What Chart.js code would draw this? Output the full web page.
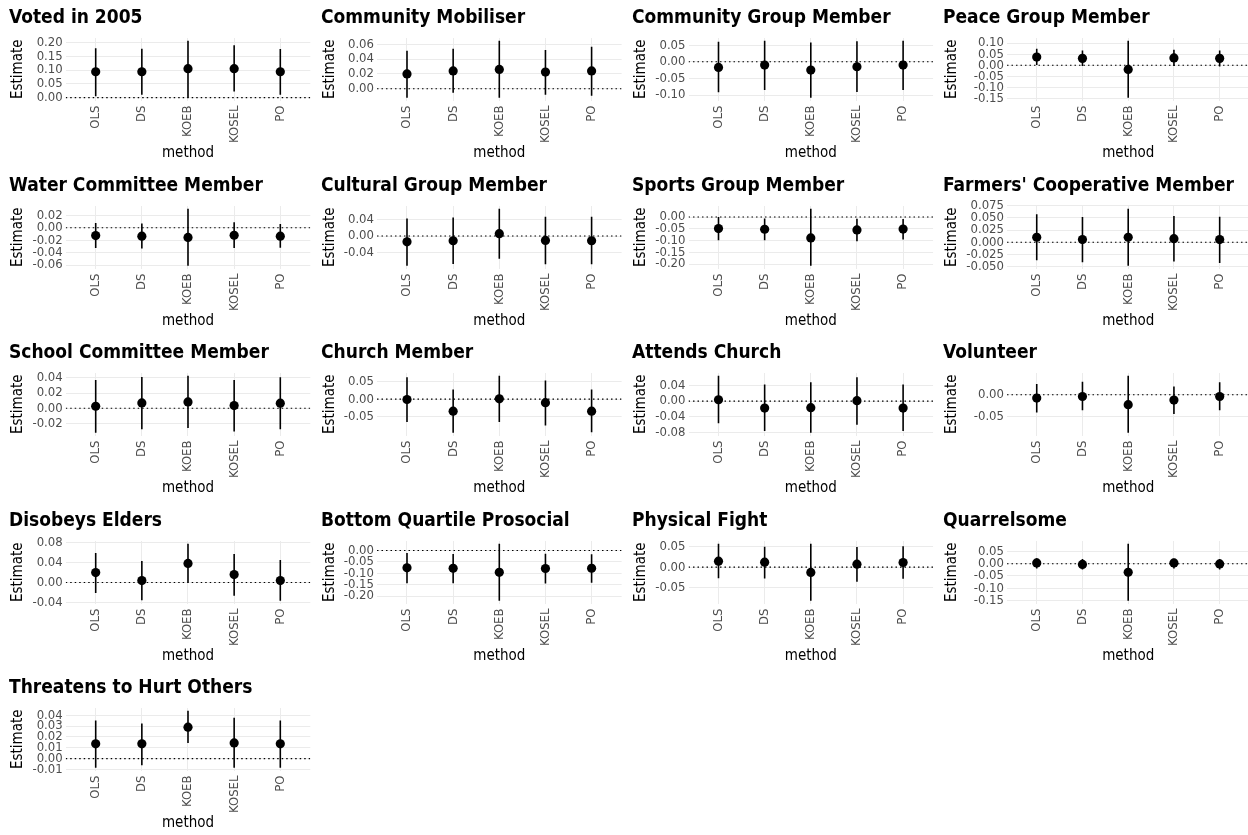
<!DOCTYPE html>
<html>
<head>
<meta charset="utf-8">
<script src="https://cdn.jsdelivr.net/npm/chart.js@4"></script>
<style>
  html, body { margin: 0; padding: 0; background: #fff; overflow: hidden; }
  #wrap { position: relative; width: 1248px; height: 835px; overflow: hidden; }
  .panel { position: absolute; }
</style>
</head>
<body>
<div id="wrap"></div>
<script>
// Data
const methods = ['OLS', 'DS', 'KOEB', 'KOSEL', 'PO'];

const panelTitles = [
    'Voted in 2005', 'Community Mobiliser', 'Community Group Member', 'Peace Group Member',
    'Water Committee Member', 'Cultural Group Member', 'Sports Group Member', "Farmers' Cooperative Member",
    'School Committee Member', 'Church Member', 'Attends Church', 'Volunteer',
    'Disobeys Elders', 'Bottom Quartile Prosocial', 'Physical Fight', 'Quarrelsome',
    'Threatens to Hurt Others'
];

const estimate = [
    [0.094, 0.094, 0.105, 0.105, 0.094],
    [0.020, 0.024, 0.026, 0.0225, 0.024],
    [-0.017, -0.010, -0.025, -0.015, -0.010],
    [0.037, 0.031, -0.019, 0.033, 0.031],
    [-0.0125, -0.0135, -0.0155, -0.012, -0.0135],
    [-0.014, -0.0115, 0.0057, -0.0106, -0.0115],
    [-0.049, -0.052, -0.089, -0.055, -0.051],
    [0.0103, 0.0055, 0.0103, 0.0075, 0.0055],
    [0.0026, 0.007, 0.0083, 0.0035, 0.0066],
    [-0.001, -0.034, 0.001, -0.010, -0.034],
    [0.0034, -0.0176, -0.0168, 0.001, -0.0176],
    [-0.0077, -0.004, -0.023, -0.0123, -0.004],
    [0.0198, 0.004, 0.038, 0.0158, 0.004],
    [-0.076, -0.078, -0.096, -0.079, -0.078],
    [0.0146, 0.0122, -0.013, 0.0073, 0.0114],
    [0.003, -0.003, -0.035, 0.003, -0.001],
    [0.0136, 0.0136, 0.029, 0.0145, 0.0136]
];

const lower = [
    [0.005, 0.011, 0.0, 0.022, 0.011],
    [-0.012, -0.0055, -0.012, -0.008, -0.0095],
    [-0.092, -0.085, -0.108, -0.091, -0.085],
    [0.001, -0.003, -0.146, -0.003, -0.006],
    [-0.0325, -0.0335, -0.061, -0.0325, -0.032],
    [-0.072, -0.068, -0.0555, -0.0686, -0.0686],
    [-0.099, -0.099, -0.207, -0.103, -0.096],
    [-0.0364, -0.0405, -0.0474, -0.039, -0.042],
    [-0.032, -0.0276, -0.026, -0.0306, -0.0276],
    [-0.065, -0.095, -0.065, -0.0745, -0.094],
    [-0.056, -0.076, -0.080, -0.060, -0.076],
    [-0.041, -0.036, -0.088, -0.0446, -0.036],
    [-0.021, -0.035, 0.0, -0.026, -0.036],
    [-0.144, -0.144, -0.22, -0.145, -0.141],
    [-0.027, -0.0276, -0.082, -0.036, -0.0285],
    [-0.020, -0.024, -0.151, -0.020, -0.024],
    [-0.0083, -0.006, 0.0145, -0.0083, -0.0083]
];

const upper = [
    [0.1795, 0.177, 0.206, 0.19, 0.176],
    [0.051, 0.054, 0.0645, 0.052, 0.0565],
    [0.060, 0.063, 0.058, 0.062, 0.063],
    [0.074, 0.067, 0.110, 0.070, 0.067],
    [0.0075, 0.007, 0.0305, 0.009, 0.006],
    [0.0425, 0.045, 0.066, 0.0465, 0.0465],
    [0.0, -0.006, 0.035, -0.007, -0.0085],
    [0.057, 0.0515, 0.068, 0.0536, 0.052],
    [0.037, 0.041, 0.0425, 0.037, 0.0405],
    [0.062, 0.027, 0.066, 0.053, 0.027],
    [0.064, 0.042, 0.048, 0.0605, 0.042],
    [0.025, 0.030, 0.044, 0.019, 0.029],
    [0.059, 0.043, 0.077, 0.057, 0.045],
    [-0.0115, -0.016, 0.029, -0.014, -0.017],
    [0.057, 0.050, 0.057, 0.049, 0.051],
    [0.022, 0.019, 0.081, 0.020, 0.019],
    [0.035, 0.0324, 0.044, 0.0377, 0.035]
];

const yTickLabels = [
    ['0.00', '0.05', '0.10', '0.15', '0.20'],
    ['0.00', '0.02', '0.04', '0.06'],
    ['-0.10', '-0.05', '0.00', '0.05'],
    ['-0.15', '-0.10', '-0.05', '0.00', '0.05', '0.10'],
    ['-0.06', '-0.04', '-0.02', '0.00', '0.02'],
    ['-0.04', '0.00', '0.04'],
    ['-0.20', '-0.15', '-0.10', '-0.05', '0.00'],
    ['-0.050', '-0.025', '0.000', '0.025', '0.050', '0.075'],
    ['-0.02', '0.00', '0.02', '0.04'],
    ['-0.05', '0.00', '0.05'],
    ['-0.08', '-0.04', '0.00', '0.04'],
    ['-0.05', '0.00'],
    ['-0.04', '0.00', '0.04', '0.08'],
    ['-0.20', '-0.15', '-0.10', '-0.05', '0.00'],
    ['-0.05', '0.00', '0.05'],
    ['-0.15', '-0.10', '-0.05', '0.00', '0.05'],
    ['-0.01', '0.00', '0.01', '0.02', '0.03', '0.04']
];

// Layout of the 4 x 5 grid of small plots
const colX = [0, 312, 623, 934];
const rowY = [0, 168, 335, 503, 670];
const plotLeft = [65.7, 65, 65.5, 73];   // plot area left edge inside each column
const plotWidth = 244.6;
const canvasW = 320, canvasH = 167;
const xPad = 0.65;

const FONT = "'DejaVu Sans Condensed', 'Liberation Sans Narrow', 'Roboto', sans-serif";

function makePanel(p) {
    const col = p % 4, row = Math.floor(p / 4);
    const div = document.createElement('div');
    div.className = 'panel';
    div.style.left = colX[col] + 'px';
    div.style.top = rowY[row] + 'px';
    const canvas = document.createElement('canvas');
    canvas.width = canvasW;
    canvas.height = canvasH;
    div.appendChild(canvas);
    document.getElementById('wrap').appendChild(div);

    const lo = Math.min(0, ...lower[p]);
    const hi = Math.max(0, ...upper[p]);
    const pad = (hi - lo) * 0.05;
    const tickVals = yTickLabels[p].map(Number);

    // error bars as separate segments split by gaps
    const bars = [];
    methods.forEach((m, i) => {
        bars.push({ x: i, y: lower[p][i] }, { x: i, y: upper[p][i] }, { x: i, y: null });
    });

    new Chart(canvas, {
        type: 'line',
        data: {
            datasets: [
                {
                    data: [{ x: -xPad, y: 0 }, { x: methods.length - 1 + xPad, y: 0 }],
                    borderColor: '#000',
                    borderWidth: 1.1,
                    borderDash: [1.5, 3],
                    pointRadius: 0,
                    order: 3
                },
                {
                    data: bars,
                    borderColor: '#000',
                    borderWidth: 1.6,
                    pointRadius: 0,
                    spanGaps: false,
                    order: 2
                },
                {
                    data: estimate[p].map((v, i) => ({ x: i, y: v })),
                    showLine: false,
                    pointRadius: 4.6,
                    pointBackgroundColor: '#000',
                    pointBorderWidth: 0,
                    order: 1
                }
            ]
        },
        options: {
            responsive: false,
            animation: false,
            events: [],
            layout: { padding: { left: 9, right: canvasW - plotLeft[col] - plotWidth, top: 0, bottom: 0 } },
            plugins: {
                legend: { display: false },
                tooltip: { enabled: false },
                title: {
                    display: true,
                    text: panelTitles[p],
                    align: 'start',
                    color: '#000',
                    font: { family: FONT, size: 19, weight: 'bold', lineHeight: 1.2 },
                    padding: { top: 7, bottom: 8.2 }
                }
            },
            scales: {
                x: {
                    type: 'linear',
                    min: -xPad,
                    max: methods.length - 1 + xPad,
                    afterBuildTicks: s => { s.ticks = methods.map((m, i) => ({ value: i })); },
                    afterFit: s => { s.height = 66.5; },
                    ticks: {
                        autoSkip: false,
                        minRotation: 90,
                        maxRotation: 90,
                        padding: 5,
                        color: '#4d4d4d',
                        font: { family: FONT, size: 13 },
                        callback: v => methods[v]
                    },
                    grid: { color: '#ebebeb', drawTicks: false },
                    border: { display: false },
                    title: {
                        display: true,
                        text: 'method',
                        color: '#000',
                        font: { family: FONT, size: 15 },
                        padding: { top: 0, bottom: 4.7 }
                    }
                },
                y: {
                    min: lo - pad,
                    max: hi + pad,
                    afterBuildTicks: s => { s.ticks = tickVals.map(v => ({ value: v })); },
                    afterFit: s => { s.width = plotLeft[col] - 9; },
                    ticks: {
                        autoSkip: false,
                        padding: 3,
                        color: '#4d4d4d',
                        font: { family: FONT, size: 13 },
                        callback: (v, i) => yTickLabels[p][i]
                    },
                    grid: { color: '#ebebeb', drawTicks: false },
                    border: { display: false },
                    title: {
                        display: true,
                        text: 'Estimate',
                        color: '#000',
                        font: { family: FONT, size: 15 },
                        padding: { top: 0, bottom: 0 }
                    }
                }
            }
        }
    });
}

for (let p = 0; p < panelTitles.length; p++) {
    makePanel(p);
}
</script>
</body>
</html>
